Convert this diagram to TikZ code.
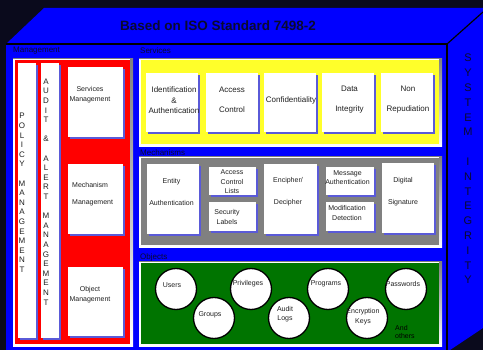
\documentclass[tikz,border=0pt]{standalone}
\usepackage{fontspec}
\setmainfont{Liberation Sans}
\usetikzlibrary{shadows}
\definecolor{bgc}{HTML}{0A0A1C}
\definecolor{cubeblue}{HTML}{0000FF}
\definecolor{shade}{HTML}{5A5AD8}
\definecolor{panred}{HTML}{FF0000}
\definecolor{panyel}{HTML}{FFFF2A}
\definecolor{pangray}{HTML}{808080}
\definecolor{pangreen}{HTML}{007400}
\definecolor{txtc}{HTML}{202020}
\definecolor{navy}{HTML}{0A0A30}
\newcommand\bevelpanel[5]{%
  \fill[shade] (#1,#2) rectangle (#3,#4);
  \fill[white] (#1,#2) rectangle ({#3-3},{#4-3});
  \fill[#5] ({#1+1.5},{#2+1.5}) rectangle ({#3-3},{#4-3});
}
\begin{document}
\begin{tikzpicture}[x=1pt,y=-1pt,
  wbox/.style={fill=white, inner sep=0pt, draw=none,
    drop shadow={shadow xshift=2pt, shadow yshift=-2pt, fill=shade, opacity=1}},
  obj/.style={circle, draw=black, line width=1.3pt, fill=white, minimum size=41pt, inner sep=0pt},
  t8/.style={font=\fontsize{8}{10}\selectfont, text=txtc, align=center, inner sep=0pt},
  t7/.style={font=\fontsize{7}{9.5}\selectfont, text=txtc, align=center, inner sep=0pt},
  lbl/.style={font=\fontsize{8}{10}\selectfont, text=navy, anchor=west, inner sep=0pt},
  col/.style={font=\fontsize{8}{9.6}\selectfont, text=txtc, align=center, inner sep=0pt},
  sidecol/.style={font=\fontsize{11}{14.8}\selectfont, text=navy, align=center, inner sep=0pt},
  edge/.style={draw=black, line width=1.2pt}
]
\useasboundingbox (0,0) rectangle (483,350);
\fill[bgc] (0,0) rectangle (483,350);
% cube
\fill[cubeblue] (6,44) -- (44,8) -- (483,8) -- (483,328) -- (450,350) -- (6,350) -- cycle;
\coordinate (fl) at (6,44);
\coordinate (fr) at (447,44);
\coordinate (fb) at (447,350);
\coordinate (tr) at (483,12);
\draw[edge] (fl) -- (fr) -- (fb);
\draw[edge] (fr) -- (tr);
\node[font=\fontsize{13.5}{16}\selectfont\bfseries, text=navy, inner sep=0pt] (title) at (218,26) {Based on ISO Standard 7498-2};
\node[sidecol] (sysint) at (468,169) {S\\Y\\S\\T\\E\\M\\[14.8pt]I\\N\\T\\E\\G\\R\\I\\T\\Y};

% labels
\node[lbl] (lmgmt) at (13,51) {Management};
\node[lbl] (lserv) at (140,51) {Services};
\node[lbl] (lmech) at (140,153) {Mechanisms};
\node[lbl] (lobj) at (140,257) {Objects};

% panels
\bevelpanel{13}{59}{133}{347}{panred}
\bevelpanel{139}{59}{442}{147}{panyel}
\bevelpanel{139}{157}{442}{248}{pangray}
\bevelpanel{139}{262}{442}{347}{pangreen}

% management
\node[wbox, minimum width=18pt, minimum height=275pt] (policy) at (27,200.5) {};
\node[wbox, minimum width=18pt, minimum height=275pt] (audit) at (50,200.5) {};
\node[col] (policyt) at (22,193) {P\\O\\L\\I\\C\\Y\\[9.6pt]M\\A\\N\\A\\G\\E\\M\\E\\N\\T};
\node[col] (auditt) at (46,192) {A\\U\\D\\I\\T\\[9.6pt]\&\\[9.6pt]A\\L\\E\\R\\T\\[9.6pt]M\\A\\N\\A\\G\\E\\M\\E\\N\\T};
\node[wbox, minimum width=55pt, minimum height=70pt] (servm) at (95.5,102) {};
\node[wbox, minimum width=55pt, minimum height=70pt] (mechm) at (95.5,199) {};
\node[wbox, minimum width=55pt, minimum height=69pt] (objm) at (95.5,301.5) {};
\node[t7, font=\fontsize{7}{10}\selectfont] (servmt) at (90,95) {Services\\Management};
\node[t7, font=\fontsize{7}{10}\selectfont, align=left, anchor=west] (mechmt) at (72,194.5) {Mechanism\\[7pt]Management};
\node[t7, font=\fontsize{7}{10}\selectfont] (objmt) at (90,295) {Object\\Management};

% services
\node[wbox, minimum width=52pt, minimum height=59pt] (idauth) at (172,102.5) {};
\node[wbox, minimum width=52pt, minimum height=59pt] (access) at (231.5,102.5) {};
\node[wbox, minimum width=52pt, minimum height=59pt] (conf) at (290,102.5) {};
\node[wbox, minimum width=52pt, minimum height=59pt] (dataint) at (348,102.5) {};
\node[wbox, minimum width=52pt, minimum height=59pt] (nonrep) at (407,102.5) {};
\node[t8, font=\fontsize{8}{10.5}\selectfont] (idautht) at (174,100.5) {Identification\\\&\\Authentication};
\node[t8] (accesst) at (232,100) {Access\\[10pt]Control};
\node[t8] (conft) at (291,100) {Confidentiality};
\node[t8] (dataintt) at (349.5,100) {Data\\[10pt]Integrity};
\node[t8] (nonrept) at (408,100) {Non\\[10pt]Repudiation};

% mechanisms
\node[wbox, minimum width=52pt, minimum height=70pt] (entity) at (173,199) {};
\node[wbox, minimum width=47pt, minimum height=28pt] (acl) at (232.5,181) {};
\node[wbox, minimum width=47pt, minimum height=29pt] (seclab) at (232.5,216.5) {};
\node[wbox, minimum width=53pt, minimum height=70pt] (encdec) at (290.5,199) {};
\node[wbox, minimum width=48pt, minimum height=28pt] (msgauth) at (350,181) {};
\node[wbox, minimum width=48pt, minimum height=29pt] (moddet) at (350,216.5) {};
\node[wbox, minimum width=52pt, minimum height=70pt] (digsig) at (408,198) {};
\node[t7] (entityt) at (171.5,192) {Entity\\[12.5pt]Authentication};
\node[t7] (aclt) at (232,182) {Access\\Control\\Lists};
\node[t7, font=\fontsize{7}{10}\selectfont] (seclabt) at (227,217) {Security\\Labels};
\node[t7] (encdect) at (288,192) {Encipher/\\[12.5pt]Decipher};
\node[t7] (msgautht) at (347.5,177.5) {Message\\Authentication};
\node[t7, font=\fontsize{7}{10}\selectfont] (moddett) at (347,213) {Modification\\Detection};
\node[t7] (digsigt) at (403,192) {Digital\\[12.5pt]Signature};

% objects
\node[obj] (users) at (176,289) {};
\node[obj] (groups) at (214,318) {};
\node[obj] (privs) at (251,289) {};
\node[obj] (alogs) at (289,318) {};
\node[obj] (progs) at (328,289) {};
\node[obj] (enckeys) at (367,318) {};
\node[obj] (pwds) at (406,289) {};
\node[t7] (userst) at (172,285) {Users};
\node[t7] (groupst) at (210,315) {Groups};
\node[t7] (privst) at (248,284) {Privileges};
\node[t7, font=\fontsize{7}{9}\selectfont] (alogst) at (285,314.5) {Audit\\Logs};
\node[t7] (progst) at (326,284) {Programs};
\node[t7, font=\fontsize{7}{10}\selectfont] (enckeyst) at (363,317) {Encryption\\Keys};
\node[t7] (pwdst) at (403,284) {Passwords};
\node[t7, font=\fontsize{7}{8}\selectfont, text=black, align=left, anchor=west] (others) at (395,332) {And\\others};
\end{tikzpicture}
\end{document}
